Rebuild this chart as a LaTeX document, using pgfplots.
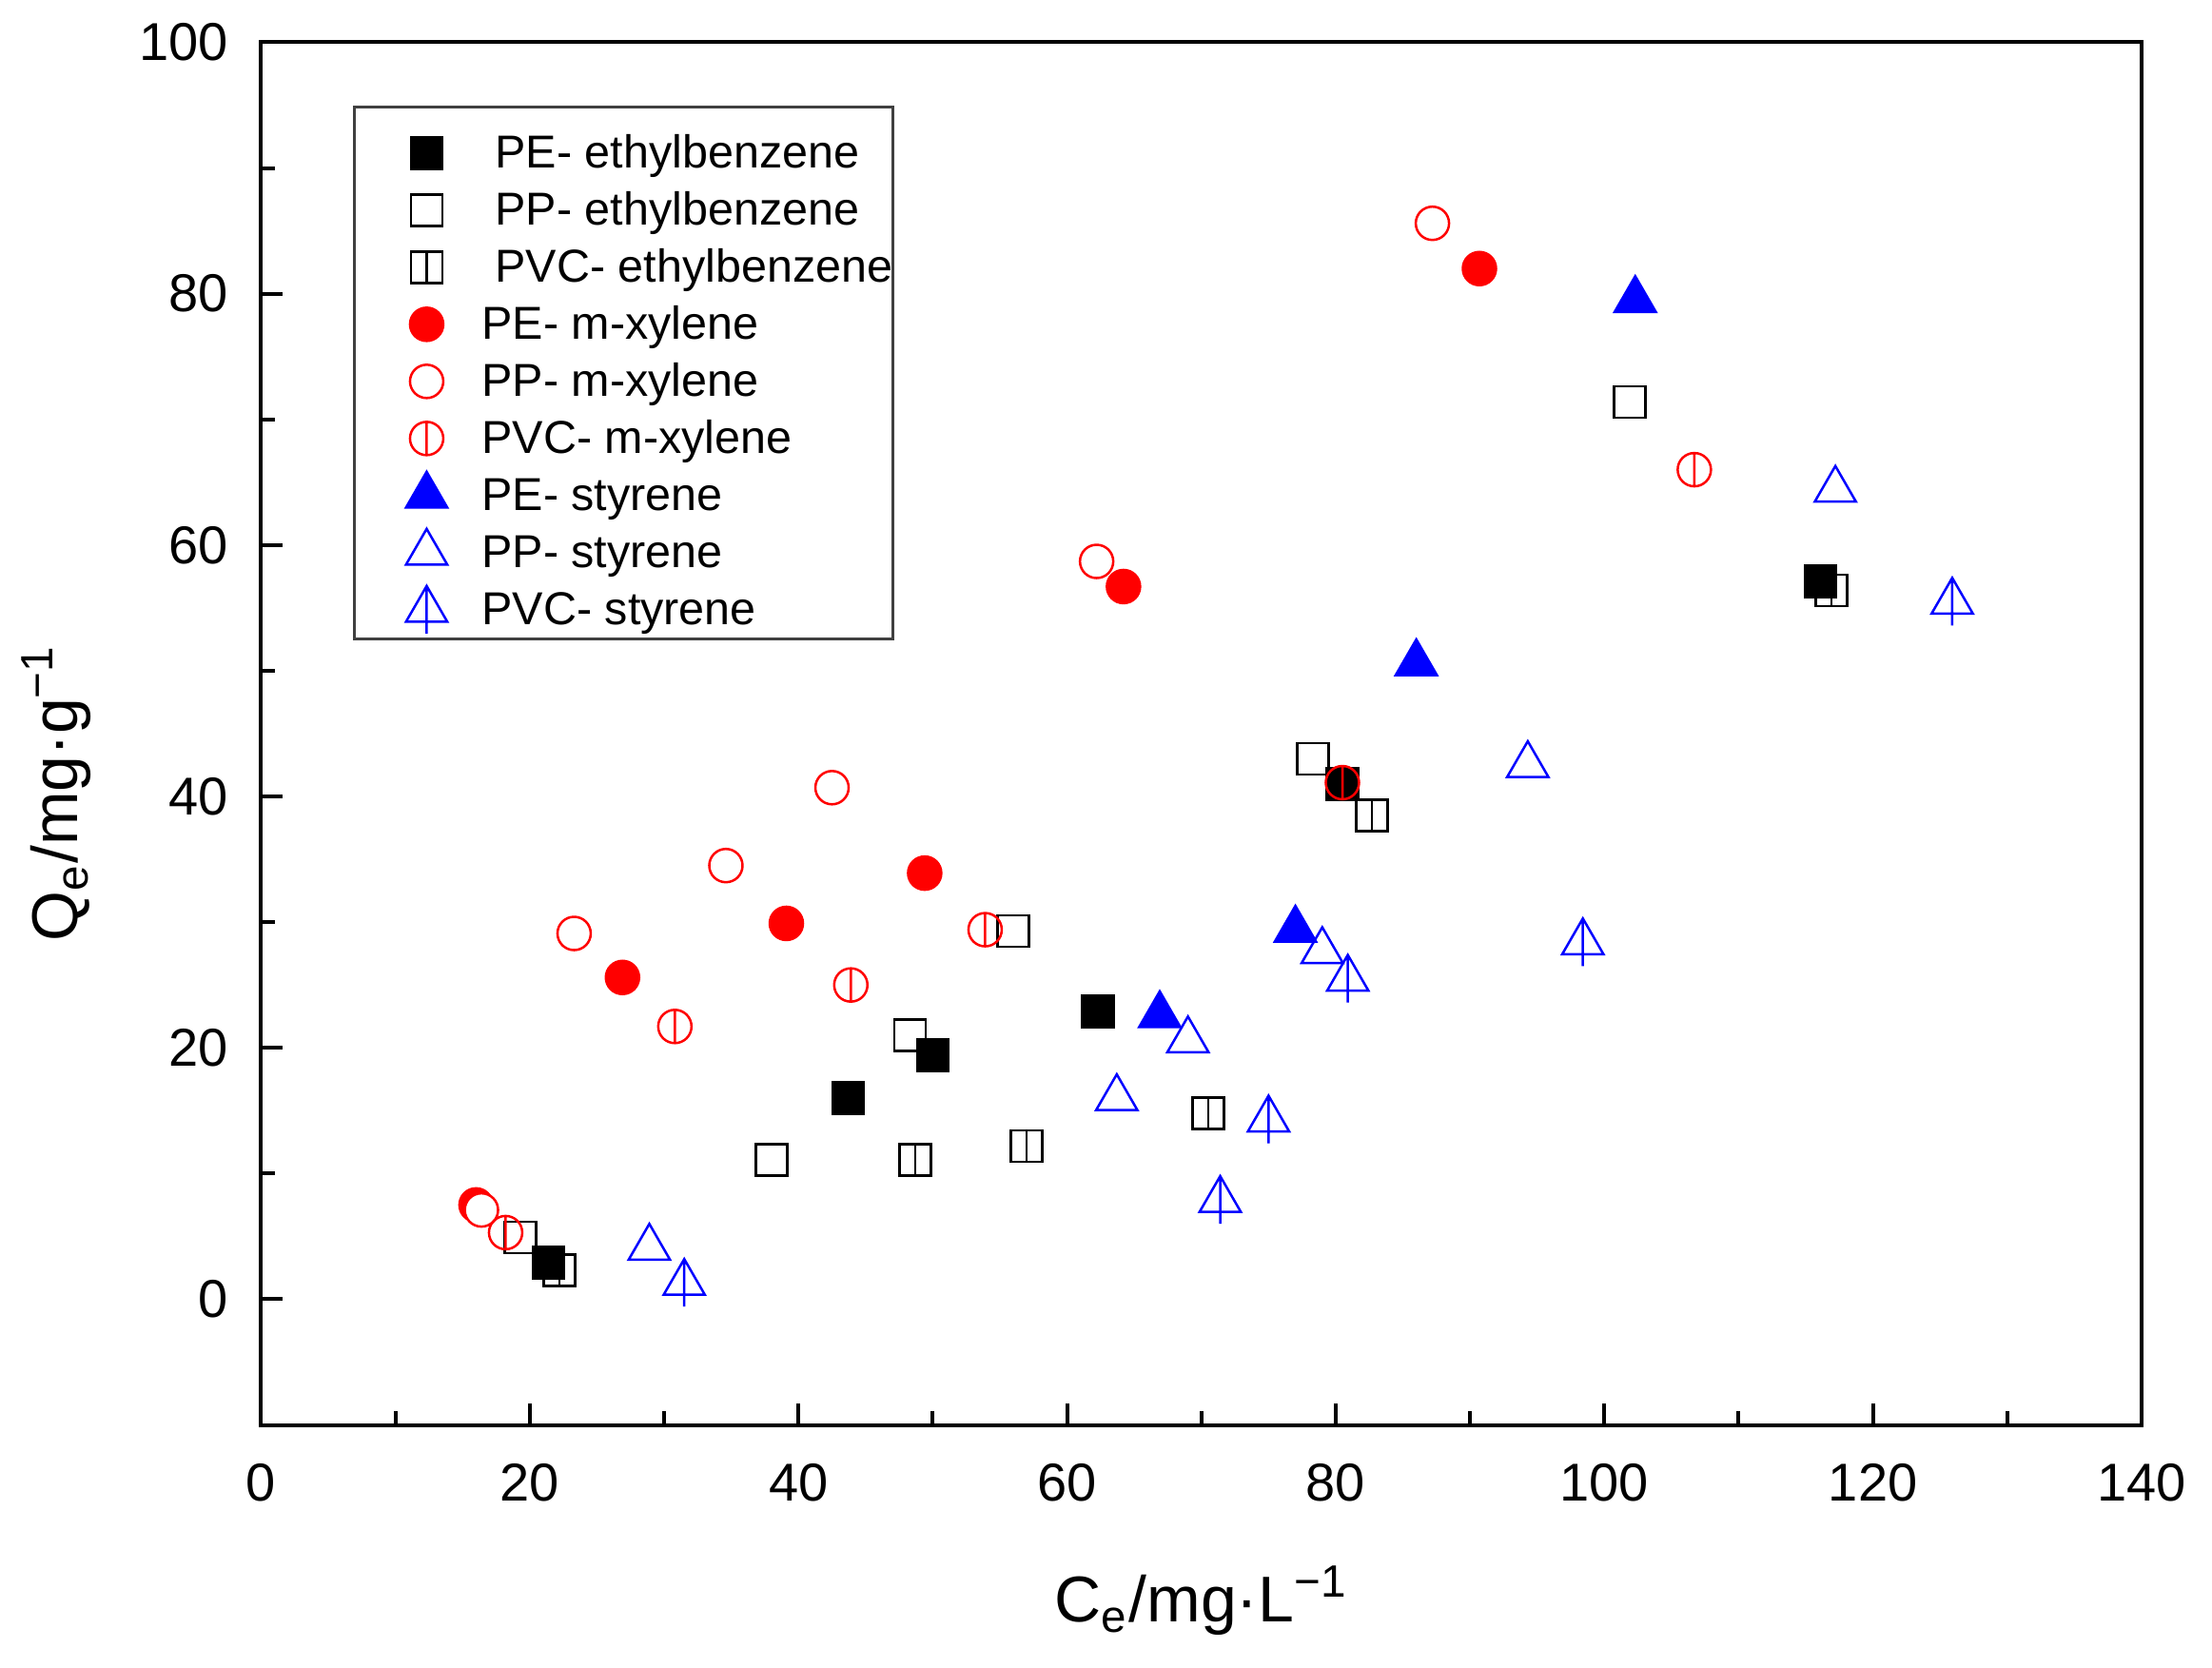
\documentclass[border=0pt]{standalone}
\usepackage{pgfplots}
\pgfplotsset{compat=1.18}
\usepackage{fontspec}
\setmainfont{Liberation Sans}

% open marks with a vertical bar through them
\pgfdeclareplotmark{sqbar}{%
  \pgfpathrectangle{\pgfqpoint{-\pgfplotmarksize}{-\pgfplotmarksize}}{\pgfqpoint{2\pgfplotmarksize}{2\pgfplotmarksize}}%
  \pgfpathmoveto{\pgfqpoint{0pt}{-\pgfplotmarksize}}%
  \pgfpathlineto{\pgfqpoint{0pt}{\pgfplotmarksize}}%
  \pgfusepathqstroke}
\pgfdeclareplotmark{circbar}{%
  \pgfpathcircle{\pgfpointorigin}{\pgfplotmarksize}%
  \pgfpathmoveto{\pgfqpoint{0pt}{-\pgfplotmarksize}}%
  \pgfpathlineto{\pgfqpoint{0pt}{\pgfplotmarksize}}%
  \pgfusepathqstroke}
\pgfdeclareplotmark{tribar}{%
  \pgfpathmoveto{\pgfqpoint{0pt}{\pgfplotmarksize}}%
  \pgfpathlineto{\pgfqpointpolar{-30}{\pgfplotmarksize}}%
  \pgfpathlineto{\pgfqpointpolar{210}{\pgfplotmarksize}}%
  \pgfpathclose
  \pgfpathmoveto{\pgfqpoint{0pt}{\pgfplotmarksize}}%
  \pgfpathlineto{\pgfqpoint{0pt}{-\pgfplotmarksize}}%
  \pgfusepathqstroke}

\definecolor{ored}{RGB}{255,0,0}
\definecolor{oblue}{RGB}{0,0,255}

\begin{document}
\begin{tikzpicture}
\useasboundingbox (-54.9pt,-50.9pt) rectangle (410.1pt,299.5pt);
\begin{axis}[
  at={(0pt,0pt)}, anchor=south west,
  width=395.3pt, height=290.6pt, scale only axis,
  xmin=0, xmax=140, ymin=-10, ymax=100,
  xtick={0,20,...,140}, ytick={0,20,...,100},
  minor x tick num=1, minor y tick num=1,
  tick pos=left, tick align=inside,
  major tick length=4.5pt, minor tick length=3pt,
  axis line style={line width=0.8pt},
  every tick/.style={line width=0.8pt, black},
  /pgf/number format/assume math mode=true,
  tick label style={font=\fontsize{11.2}{13}\selectfont},
  xticklabel style={yshift=-4.7pt},
  yticklabel style={xshift=-3.4pt},
  every axis x label/.style={at={(axis description cs:0.5,-0.127)}, anchor=center, font=\fontsize{13.6}{16}\selectfont},
  every axis y label/.style={at={(axis description cs:-0.109,0.457)}, anchor=center, rotate=90, font=\fontsize{13.6}{16}\selectfont},
  xlabel={C\textsubscript{e}/mg·L\textsuperscript{−1}},
  ylabel={Q\textsubscript{e}/mg·g\textsuperscript{−1}},
  legend style={at={(0.0488,0.954)}, anchor=north west, draw=black!75, line width=0.6pt,
    fill=white, font=\fontsize{9.7}{11}\selectfont, inner xsep=0pt, inner ysep=1.2pt,
    row sep=0pt, column sep=0pt,
    nodes={inner sep=0pt, text height=11.6pt, text depth=0.4pt}},
  legend cell align=left,
  legend image code/.code={%
    \path[draw=none, fill=none] (0pt,-2pt) rectangle (26.8pt,2pt);
    \draw[#1] plot coordinates {(15.2pt,-2.4pt)};},
]
\addplot[only marks, mark=square*, mark size=3.3pt, black, line width=0.5pt] coordinates {
(21.4,2.9) (43.7,16.0) (50.0,19.4) (62.3,22.9) (80.5,41.0) (116.1,57.1)
};
\addlegendentry{\hspace{2.8pt}PE- ethylbenzene}
\addplot[only marks, mark=square, mark size=3.3pt, black, line width=0.5pt] coordinates {
(19.3,4.9) (38.0,11.1) (48.3,21.0) (56.0,29.3) (78.3,43.0) (101.9,71.4)
};
\addlegendentry{\hspace{2.8pt}PP- ethylbenzene}
\addplot[only marks, mark=sqbar, mark size=3.3pt, black, line width=0.5pt] coordinates {
(22.2,2.3) (48.7,11.1) (57.0,12.2) (70.5,14.8) (82.7,38.5) (116.9,56.4)
};
\addlegendentry{\hspace{2.8pt}PVC- ethylbenzene}
\addplot[only marks, mark=*, mark size=3.5pt, ored, line width=0.5pt] coordinates {
(16.0,7.5) (26.9,25.6) (39.1,29.9) (49.4,33.9) (64.2,56.7) (90.7,82.0)
};
\addlegendentry{PE- m-xylene}
\addplot[only marks, mark=*, mark size=3.5pt, ored, mark options={fill=white}, line width=0.5pt] coordinates {
(16.4,7.1) (23.3,29.1) (34.6,34.5) (42.5,40.7) (62.2,58.7) (87.2,85.6)
};
\addlegendentry{PP- m-xylene}
\addplot[only marks, mark=circbar, mark size=3.5pt, ored, line width=0.5pt] coordinates {
(18.2,5.3) (30.8,21.7) (43.9,25.0) (53.9,29.4) (80.5,41.1) (106.7,66.0)
};
\addlegendentry{PVC- m-xylene}
\addplot[only marks, mark=triangle*, mark size=5pt, oblue, line width=0.5pt] coordinates {
(66.9,22.6) (77.0,29.4) (86.0,50.6) (102.3,79.5)
};
\addlegendentry{PE- styrene}
\addplot[only marks, mark=triangle, mark size=5pt, oblue, line width=0.5pt] coordinates {
(28.9,4.1) (63.7,16.0) (69.0,20.6) (79.0,27.7) (94.3,42.5) (117.2,64.4)
};
\addlegendentry{PP- styrene}
\addplot[only marks, mark=tribar, mark size=5pt, oblue, line width=0.5pt] coordinates {
(31.5,1.3) (71.4,7.9) (75.0,14.3) (80.9,25.5) (98.4,28.4) (125.9,55.5)
};
\addlegendentry{PVC- styrene}
\end{axis}
\end{tikzpicture}
\end{document}
